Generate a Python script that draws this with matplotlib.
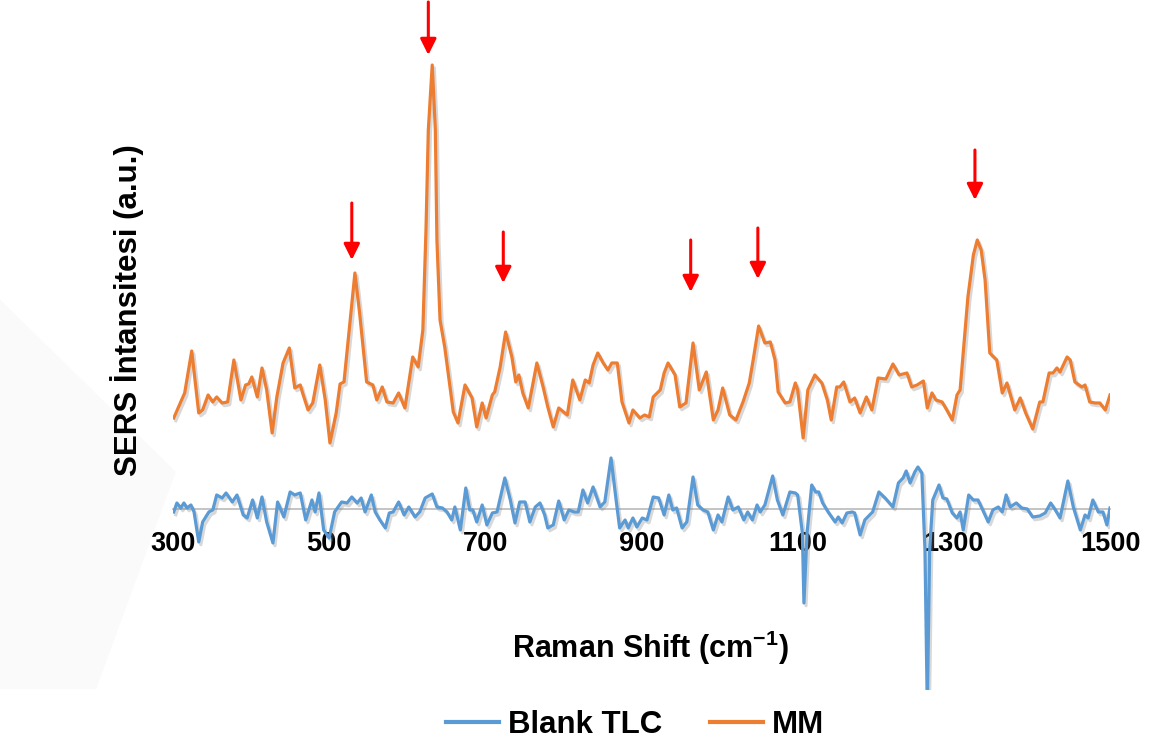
import matplotlib
matplotlib.use('Agg')
import matplotlib.pyplot as plt
import matplotlib.patheffects as pe
from matplotlib.patches import Polygon

plt.rcParams['font.family'] = ['Liberation Sans', 'DejaVu Sans']
plt.rcParams['mathtext.fontset'] = 'custom'
plt.rcParams['mathtext.rm'] = 'Liberation Sans'
plt.rcParams['mathtext.bf'] = 'Liberation Sans:bold'

# MM spectrum (Raman shift, intensity a.u.)
mm_x = [301, 315, 324, 333, 338, 345, 351, 356, 363, 370, 378, 387, 393, 397, 401, 408,
        414, 420, 427, 433, 441, 449, 456, 463, 466, 473, 479, 488, 495, 501, 509, 514,
        519, 533, 539, 548, 556, 561, 568, 574, 582, 589, 597, 607, 614, 620, 624, 627,
        632, 636, 638, 642, 648, 659, 665, 674, 683, 689, 696, 701, 709, 712, 719, 726,
        734, 739, 743, 748, 755, 766, 774, 780, 787, 794, 805, 812, 821, 828, 833, 838,
        844, 851, 857, 862, 869, 875, 884, 889, 898, 904, 910, 915, 924, 929, 934, 943,
        949, 957, 966, 974, 983, 992, 998, 1004, 1013, 1021, 1030, 1038, 1043, 1050, 1058,
        1065, 1071, 1075, 1084, 1090, 1097, 1100, 1107, 1113, 1122, 1131, 1138, 1143, 1150,
        1154, 1159, 1167, 1173, 1180, 1188, 1195, 1203, 1213, 1222, 1230, 1240, 1246, 1253,
        1261, 1266, 1272, 1277, 1285, 1291, 1298, 1304, 1308, 1318, 1325, 1330, 1335, 1340,
        1346, 1355, 1362, 1368, 1378, 1385, 1392, 1401, 1410, 1414, 1422, 1427, 1432, 1436,
        1445, 1449, 1455, 1464, 1468, 1474, 1481, 1487, 1494, 1500]
mm_y = [91, 116, 158, 96, 99, 114, 107, 112, 106, 107, 149, 109, 124, 125, 132, 112,
        141, 119, 76, 112, 146, 161, 121, 124, 116, 99, 106, 144, 109, 66, 96, 125,
        127, 236, 196, 127, 124, 109, 122, 107, 106, 116, 101, 152, 142, 179, 279, 379,
        444, 379, 269, 189, 162, 97, 86, 124, 111, 82, 106, 91, 114, 117, 142, 177,
        152, 127, 134, 116, 101, 146, 122, 102, 82, 101, 94, 129, 109, 129, 126, 144,
        156, 146, 139, 146, 146, 107, 86, 99, 91, 94, 92, 112, 119, 136, 146, 134,
        102, 106, 166, 119, 137, 89, 99, 121, 94, 89, 107, 126, 149, 183, 166,
        167, 149, 117, 106, 107, 126, 119, 71, 119, 134, 126, 109, 89, 122,
        122, 127, 107, 111, 96, 112, 99, 131, 130, 145, 134, 136, 122, 124,
        128, 101, 116, 109, 107, 99, 89, 114, 119, 212, 254, 269, 259, 229,
        156, 149, 116, 126, 99, 111, 96, 80, 107, 107, 136, 136, 141, 137,
        152, 149, 127, 122, 124, 107, 106, 106, 99, 114]

# Blank TLC spectrum
blank_x = [301, 305, 310, 314, 318, 323, 327, 333, 338, 346, 351, 356, 363, 368, 376, 382,
           390, 395, 402, 408, 414, 420, 428, 434, 442, 450, 456, 463, 470, 478, 482, 487,
           493, 500, 507, 516, 523, 529, 536, 541, 546, 554, 559, 565, 572, 577, 582, 589,
           596, 602, 610, 616, 623, 632, 638, 645, 651, 657, 661, 668, 675, 680, 684, 689,
           696, 702, 709, 715, 725, 732, 738, 744, 751, 757, 764, 770, 776, 780, 787, 794,
           801, 807, 814, 819, 825, 831, 838, 847, 853, 861, 867, 872, 879, 883, 889, 894,
           901, 907, 915, 922, 929, 935, 940, 945, 952, 958, 966, 972, 979, 985, 992, 998,
           1003, 1011, 1017, 1024, 1031, 1036, 1042, 1048, 1052, 1058, 1068, 1074, 1081, 1090,
           1097, 1100, 1106, 1108, 1112, 1118, 1123, 1127, 1132, 1139, 1148, 1152, 1157, 1163,
           1170, 1173, 1180, 1186, 1196, 1204, 1212, 1222, 1229, 1235, 1239, 1244, 1250, 1254,
           1259, 1263, 1266, 1269, 1273, 1281, 1286, 1291, 1298, 1304, 1308, 1312, 1319, 1325,
           1331, 1337, 1344, 1350, 1357, 1362, 1367, 1372, 1380, 1387, 1394, 1401, 1410, 1417,
           1424, 1430, 1436, 1446, 1453, 1462, 1468, 1472, 1478, 1485, 1491, 1496, 1500]
blank_y = [-3, 6, 1, 6, 1, 4, -3, -33, -13, -3, -1, 14, 11, 16, 7, 14,
           -6, -9, 9, -9, 12, -13, -34, 7, -8, 17, 14, 16, -11, 9, -3, 16,
           -21, -29, -3, 7, 6, 12, 6, 11, -3, 14, -3, -11, -19, -4, -3, 7,
           -6, 2, -8, -3, 11, 15, 2, 1, -3, -11, 2, -21, 21, -1, -1, -13,
           4, -16, -4, -3, 31, 9, -14, 7, 7, -13, 2, 6, -6, -19, -16, 8,
           -11, -1, -3, -3, 19, 6, 22, 2, 7, 51, 12, -19, -11, -19, -9, -18,
           -9, -11, 12, 11, -6, 14, -1, 1, -19, -13, 32, 4, -1, -3, -21, -6,
           -13, 12, -1, 2, -11, -3, -11, 4, -3, 4, 33, 9, -6, 17,
           16, 14, -24, -94, -24, 24, 17, 17, 6, -3, -13, -8, -14, -4,
           -3, -4, -26, -11, -3, 17, 11, 2, 26, 31, 38, 26, 37, 42,
           36, -41, -200, -41, 9, 24, 11, 10, -4, -9, -3, -21, 14, 9,
           9, -1, -13, -1, 2, -3, 14, 2, 6, 1, 0, -8, -7, -4,
           6, -1, -9, 28, 2, -21, -6, -9, 9, -3, -3, -16, 1]

# peak markers
arrow_x = [529, 627, 723, 963, 1049, 1327]
arrow_tip = [249, 454, 226, 217, 230, 309]
arrow_top = [306, 507, 277, 269, 281, 359]

fig = plt.figure(figsize=(11.57, 7.49), dpi=100)

# faint watermark shape at left
wm = Polygon([(0.0, 0.60), (0.152, 0.37), (0.083, 0.08), (0.0, 0.08)],
             closed=True, transform=fig.transFigure, facecolor='#fafafa',
             edgecolor='none', zorder=0)
fig.patches.append(wm)

ax = fig.add_axes([0.1495, 0.0788, 0.8099, 0.9212])
ax.patch.set_alpha(0)

shadow = [pe.SimpleLineShadow(offset=(1.5, -2), shadow_color='gray', alpha=0.3),
          pe.Normal()]
ax.plot(blank_x, blank_y, color='#5B9BD5', lw=2.3, label='Blank TLC',
        path_effects=shadow, zorder=3)
ax.plot(mm_x, mm_y, color='#ED7D31', lw=2.3, label='MM',
        path_effects=shadow, zorder=3)

for x, tip, top in zip(arrow_x, arrow_tip, arrow_top):
    ax.annotate('', xy=(x, tip), xytext=(x, top),
                arrowprops=dict(arrowstyle='-|>', color='#FF0000', lw=2.2,
                                mutation_scale=24, shrinkA=0, shrinkB=0),
                annotation_clip=False, zorder=4)

ax.set_xlim(300, 1500)
ax.set_ylim(-181, 509)
ax.spines['top'].set_visible(False)
ax.spines['right'].set_visible(False)
ax.spines['left'].set_visible(False)
ax.spines['bottom'].set_position(('data', 0))
ax.spines['bottom'].set_color('#BFBFBF')
ax.spines['bottom'].set_linewidth(1.3)
ax.spines['bottom'].set_zorder(2)
ax.set_xticks(range(300, 1501, 200))
ax.tick_params(axis='x', length=0, pad=16, labelsize=19.5)
for t in ax.get_xticklabels():
    t.set_fontweight('bold')
ax.set_yticks([])

fig.text(650 / 1157, 1 - 648 / 749, r'Raman Shift (cm$^{\mathbf{-1}}$)',
         ha='center', va='center', fontsize=22, fontweight='bold')
fig.text(127 / 1157, 1 - 310 / 749, 'SERS İntansitesi (a.u.)', rotation=90,
         ha='center', va='center', fontsize=22.5, fontweight='bold')

leg = fig.legend(loc='center', bbox_to_anchor=(635 / 1157, 1 - 725 / 749), ncol=2,
                 frameon=False, prop={'weight': 'bold', 'size': 22.5},
                 handlelength=1.7, handletextpad=0.26, columnspacing=1.55)
for h in leg.get_lines():
    h.set_path_effects([])
    h.set_linewidth(3)

fig.savefig('out.png', dpi=100)
